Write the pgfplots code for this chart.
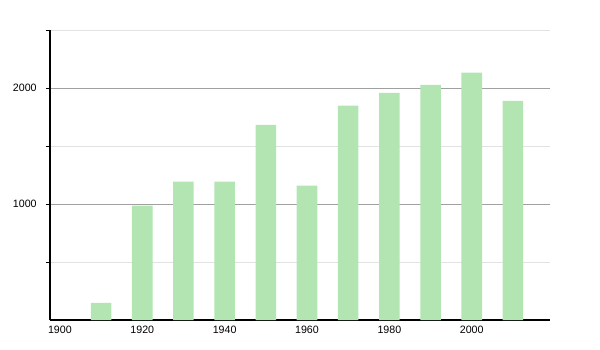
\documentclass[border=0pt]{standalone}
\usepackage{pgfplots}
\pgfplotsset{compat=1.18}
\usepackage{fontspec}
\setmainfont{Liberation Sans}
\definecolor{barg}{HTML}{B2E5B2}
\definecolor{gmaj}{HTML}{A0A0A0}
\definecolor{gmin}{HTML}{E2E2E2}
\begin{document}
\begin{tikzpicture}[x=0.75pt,y=0.75pt]
\begin{axis}[
  scale only axis,
  width=375pt, height=217.5pt,
  xmin=1897.6, xmax=2019.0,
  ymin=0, ymax=2500,
  axis x line*=bottom,
  axis y line*=left,
  axis line style={black, line width=0.8pt},
  xtick={1900,1920,1940,1960,1980,2000},
  xticklabels={1900,1920,1940,1960,1980,2000},
  x tick style={draw=none},
  ytick={1000,2000},
  minor ytick={500,1500,2500},
  y tick style={black, line width=0.6pt},
  tick align=outside,
  major tick length=3pt,
  minor tick length=3pt,
  ymajorgrids, yminorgrids,
  major grid style={gmaj, line width=0.6pt},
  minor grid style={gmin, line width=0.6pt},
  tick label style={font=\fontsize{8}{9}\selectfont},
  /pgf/number format/assume math mode=true,
  /pgf/number format/1000 sep={},
  xticklabel style={yshift=2pt},
  yticklabel style={xshift=-3.5pt},
  clip=false,
]
\addplot[ybar, bar width=5, fill=barg, draw=none] coordinates {
  (1910,147) (1920,985) (1930,1192) (1940,1192) (1950,1683)
  (1960,1158) (1970,1847) (1980,1957) (1990,2026) (2000,2132) (2010,1890)
};
\end{axis}
\path[use as bounding box] ([xshift=-37.5pt,yshift=-22.5pt]current axis.south west) rectangle ([xshift=37.5pt,yshift=22.5pt]current axis.north east);
\end{tikzpicture}
\end{document}
